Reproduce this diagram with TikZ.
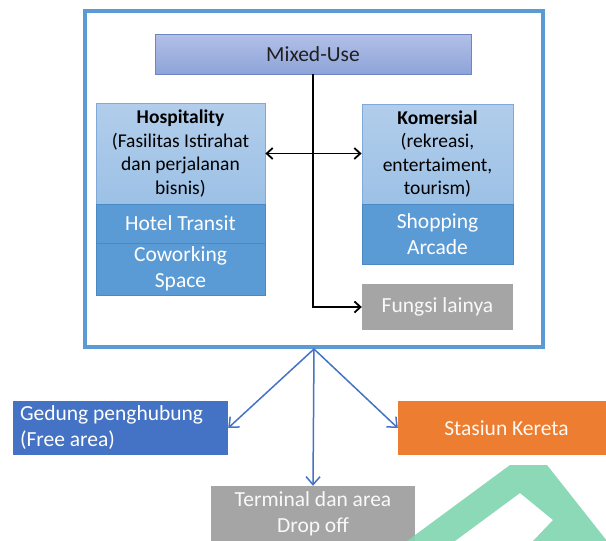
\documentclass[tikz,border=0pt]{standalone}
\usepackage{fontspec}
\setmainfont{Carlito}
\usetikzlibrary{arrows.meta}
\definecolor{frameblue}{HTML}{5B9BD5}
\definecolor{mixtop}{HTML}{B3C0E7}
\definecolor{mixbot}{HTML}{8DA3D9}
\definecolor{mixline}{HTML}{6E85C2}
\definecolor{lighttop}{HTML}{B2CDEB}
\definecolor{lightbot}{HTML}{9CC1E6}
\definecolor{lightline}{HTML}{7FA9D8}
\definecolor{midblue}{HTML}{5B9BD5}
\definecolor{midline}{HTML}{4A88C6}
\definecolor{darkblue}{HTML}{4472C4}
\definecolor{orangebox}{HTML}{ED7D31}
\definecolor{graybox}{HTML}{A5A5A5}
\definecolor{wmgreen}{HTML}{80D5B1}
\tikzset{
  blacktip/.tip={Straight Barb[length=6pt,width=11pt]},
  bluetip/.tip={Straight Barb[length=8pt,width=14pt]},
  bigtext/.style={font=\fontsize{21.5}{26}\selectfont},
  smalltext/.style={font=\fontsize{19.5}{23.5}\selectfont},
  lightbox/.style={draw=lightline, line width=0.8pt, top color=lighttop, bottom color=lightbot, align=center, smalltext, text=black, inner sep=0pt},
  midbox/.style={draw=midline, line width=0.8pt, fill=midblue, align=center, bigtext, text=white, inner sep=0pt},
  graynode/.style={fill=graybox, align=center, bigtext, text=white!95!gray, inner sep=0pt},
  blackarrow/.style={line width=1.8pt, draw=black},
  bluearrow/.style={line width=1.5pt, draw=darkblue, -{bluetip}}
}
\begin{document}
\begin{tikzpicture}[x=1pt,y=-1pt]
\useasboundingbox (0,0) rectangle (606,541);
\fill[white] (0,0) rectangle (606,541);

% outer frame
\node[draw=frameblue, line width=4pt, minimum width=458pt, minimum height=336pt, inner sep=0pt] (frame) at (314,179) {};

% Mixed-Use
\node[draw=mixline, line width=0.8pt, top color=mixtop, bottom color=mixbot, minimum width=316pt, minimum height=40pt, inner sep=0pt, bigtext, text=black!88] (mix) at (313,54) {Mixed-Use};

% Hospitality column
\node[lightbox, minimum width=169pt, minimum height=101pt] (hosp) at (180.5,153.5) {\textbf{Hospitality}\\(Fasilitas Istirahat\\dan perjalanan\\bisnis)};
\node[midbox, minimum width=169pt, minimum height=39pt] (hotel) at (180.5,223.5) {Hotel Transit};
\node[midbox, minimum width=169pt, minimum height=52pt] (cowork) at (180.5,269) {Coworking\\Space};

% Komersial column
\node[lightbox, minimum width=151pt, minimum height=100pt] (komer) at (437.5,154) {\textbf{Komersial}\\(rekreasi,\\entertaiment,\\tourism)};
\node[midbox, minimum width=151pt, minimum height=60pt] (shop) at (437.5,234) {Shopping\\Arcade};

% Fungsi lainya
\node[graynode, minimum width=151pt, minimum height=46pt] (fungsi) at (437.5,307) {Fungsi lainya};

% inner connectors
\draw[blackarrow, -{blacktip}] (mix.south) |- (fungsi.west);
\draw[blackarrow, {blacktip}-{blacktip}] (hosp.east) -- (hosp.east -| komer.west);

% lower boxes
\node[fill=darkblue, minimum width=215pt, minimum height=54pt, inner sep=0pt, text width=201pt, align=flush left, bigtext, text=white] (gedung) at (120.5,428) {Gedung penghubung\\(Free area)};
\node[fill=orangebox, minimum width=217pt, minimum height=54pt, inner sep=0pt, bigtext, text=white!95!orange] (stasiun) at (506.5,428) {Stasiun Kereta};
\node[graynode, minimum width=204pt, minimum height=55pt] (terminal) at (313,513.5) {Terminal dan area\\Drop off};

% lower connectors
\draw[bluearrow] (frame.south) -- (gedung.east);
\draw[bluearrow] (frame.south) -- (stasiun.west);
\draw[bluearrow] (frame.south) -- (terminal.north);

% watermark shape
\fill[wmgreen, opacity=0.9, even odd rule] (407,541) -- (510,465) -- (547,465) -- (607,541) -- cycle
  (455,541) -- (520,493) -- (553,520) -- (533,541) -- cycle;
\end{tikzpicture}
\end{document}
